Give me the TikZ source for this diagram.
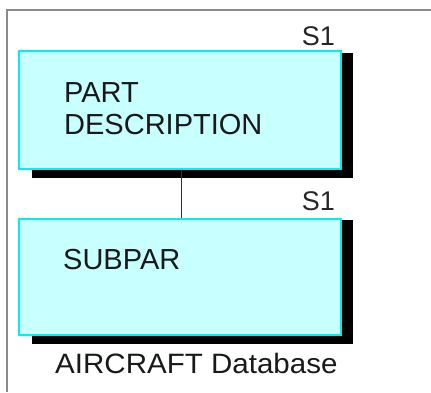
\documentclass[tikz,border=0pt]{standalone}
\usepackage{fontspec}
\setmainfont{Liberation Sans}
\definecolor{boxfill}{HTML}{C8FFFF}
\definecolor{boxline}{HTML}{00F0F0}
\definecolor{framegray}{HTML}{8A8A8A}
\definecolor{linkgray}{HTML}{333333}
\tikzset{
  entity/.style={draw=boxline, line width=1.5pt, fill=boxfill, minimum width=322pt, minimum height=118pt, inner sep=0pt, anchor=north west},
  shadowbox/.style={fill=black},
  lbl/.style={inner sep=0pt, font=\fontsize{29}{32}\selectfont, text=black!90},
  tag/.style={inner sep=0pt, font=\fontsize{27}{30}\selectfont, text=black!85, anchor=base east},
}
\begin{document}
\begin{tikzpicture}[x=1pt,y=-1pt]
\useasboundingbox (0,0) rectangle (431,392);
% frame
\draw[framegray, line width=2pt] (7,392) -- (7,9.5) -- (431,9.5);
% shadows
\fill[shadowbox] (32,53) rectangle (353,178);
\fill[shadowbox] (32,220) rectangle (353,344);
% boxes
\node[entity] (part) at (18,50) {};
\node[entity, minimum height=116pt] (sub) at (18,218) {};
% connector
\draw[linkgray, line width=1.3pt] ([xshift=2pt]part.south) -- ([xshift=2pt]sub.north);
% labels
\node[tag] (s1a) at (335,45) {S1};
\node[tag] (s1b) at (335,210) {S1};
\node[lbl, anchor=base west] (t1) at (64,102) {PART};
\node[lbl, anchor=base west] (t2) at (64,134) {DESCRIPTION};
\node[lbl, anchor=base west] (t3) at (63,269) {SUBPAR};
\node[lbl, font=\fontsize{28}{32}\selectfont, anchor=base west] (db) at (55,373) {\scalebox{1.055}[1]{AIRCRAFT Database}};
\end{tikzpicture}
\end{document}
